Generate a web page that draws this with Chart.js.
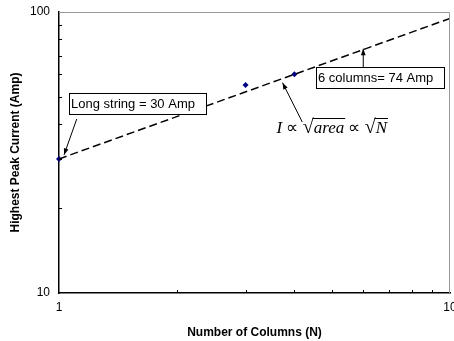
<!DOCTYPE html>
<html>
<head>
<meta charset="utf-8">
<script src="https://cdn.jsdelivr.net/npm/chart.js@4"></script>
<style>
  html, body { margin: 0; padding: 0; background: #fff; }
  #wrap { width: 454px; height: 341px; }
</style>
</head>
<body>
<div id="wrap"><canvas id="c"></canvas></div>
<script>
// measured points
const columns = [1, 3, 4];
const peakCurrent = [30, 55, 60];

// I ~ sqrt(N) fit, drawn as dashed line
const fitColumns = [1, 10];
const fitCurrent = [30, 94.9];

const xTickLabels = [1, 10];
const yTickLabels = [10, 100];
const xMinorTicks = [2, 3, 4, 5, 6, 7, 8, 9];
const yMinorTicks = [20, 30, 40, 50, 60, 70, 80, 90];

// annotation text, anchored in data units
const noteLong = { text: 'Long string = 30 Amp', x: 1.06, y: 51.5, tipX: 1.03, tipY: 31, fromX: 1.11, fromY: 41.6 };
const noteSix  = { text: '6 columns= 74 Amp', x: 4.55, y: 63.7, tipX: 6, tipY: 74 };
const noteLaw  = { x: 3.6, y: 37.1, fromX: 4.19, fromY: 40.6, tipX: 3.73, tipY: 56 };

function arrow(ctx, x1, y1, x2, y2) {
  const a = Math.atan2(y2 - y1, x2 - x1);
  ctx.beginPath();
  ctx.moveTo(x1, y1);
  ctx.lineTo(x2, y2);
  ctx.stroke();
  ctx.beginPath();
  ctx.moveTo(x2, y2);
  ctx.lineTo(x2 - 7 * Math.cos(a - 0.35), y2 - 7 * Math.sin(a - 0.35));
  ctx.lineTo(x2 - 7 * Math.cos(a + 0.35), y2 - 7 * Math.sin(a + 0.35));
  ctx.closePath();
  ctx.fill();
}

function boxText(ctx, text, x, y, w) {
  ctx.font = '13px Arial, "Liberation Sans", sans-serif';
  ctx.fillStyle = '#fff';
  ctx.fillRect(x, y, w, 21);
  ctx.strokeStyle = '#000';
  ctx.lineWidth = 1;
  ctx.strokeRect(x + 0.5, y + 0.5, w, 21);
  ctx.fillStyle = '#000';
  ctx.textBaseline = 'middle';
  ctx.textAlign = 'left';
  ctx.fillText(text, x + 2, y + 11);
}

// ── frame, minor ticks, notes ──
const extras = {
  id: 'extras',
  afterDatasetsDraw(chart) {
    const { ctx, chartArea: a, scales: { x, y } } = chart;
    ctx.save();
    // top / right border
    ctx.strokeStyle = '#999';
    ctx.lineWidth = 1;
    ctx.beginPath();
    ctx.moveTo(a.left, a.top + 0.5);
    ctx.lineTo(a.right - 0.5, a.top + 0.5);
    ctx.lineTo(a.right - 0.5, a.bottom);
    ctx.stroke();
    // inward minor ticks
    ctx.strokeStyle = '#000';
    ctx.beginPath();
    xMinorTicks.forEach(v => {
      const px = Math.round(x.getPixelForValue(v)) + 0.5;
      ctx.moveTo(px, a.bottom);
      ctx.lineTo(px, a.bottom - 3);
    });
    yMinorTicks.forEach(v => {
      const py = Math.round(y.getPixelForValue(v)) + 0.5;
      ctx.moveTo(a.left, py);
      ctx.lineTo(a.left + 3, py);
    });
    ctx.stroke();

    ctx.fillStyle = '#000';
    ctx.strokeStyle = '#000';
    ctx.lineWidth = 1;
    // long string note
    arrow(ctx, x.getPixelForValue(noteLong.fromX), y.getPixelForValue(noteLong.fromY),
               x.getPixelForValue(noteLong.tipX), y.getPixelForValue(noteLong.tipY));
    boxText(ctx, noteLong.text, Math.round(x.getPixelForValue(noteLong.x)), Math.round(y.getPixelForValue(noteLong.y)), 137);
    // 6 columns note
    const sx = x.getPixelForValue(noteSix.tipX);
    const sy = Math.round(y.getPixelForValue(noteSix.y));
    arrow(ctx, sx, sy, sx, y.getPixelForValue(noteSix.tipY));
    boxText(ctx, noteSix.text, Math.round(x.getPixelForValue(noteSix.x)), sy, 128);
    // scaling law
    arrow(ctx, x.getPixelForValue(noteLaw.fromX), y.getPixelForValue(noteLaw.fromY),
               x.getPixelForValue(noteLaw.tipX), y.getPixelForValue(noteLaw.tipY));
    let lx = x.getPixelForValue(noteLaw.x);
    const ly = y.getPixelForValue(noteLaw.y);
    ctx.textBaseline = 'alphabetic';
    ctx.textAlign = 'left';
    const it = 'italic 17px "Liberation Serif", "Times New Roman", serif';
    const up = '17px "Liberation Serif", "Times New Roman", serif';
    const rad = '20px "Liberation Serif", "Times New Roman", serif';
    const put = (t, f, bar) => {
      ctx.font = f;
      const w = ctx.measureText(t).width;
      ctx.fillText(t, lx, ly);
      if (bar) {
        ctx.fillRect(lx - 1, ly - 15, w + 2, 1);
      }
      lx += w;
    };
    put('I ', it);
    put('\u221D ', up);
    put('\u221A', rad);
    put('area', it, true);
    put(' \u221D ', up);
    put('\u221A', rad);
    put('N', it, true);
    ctx.restore();
  }
};

const tickFont = { family: 'Arial, "Liberation Sans", sans-serif', size: 12 };
const titleFont = { family: 'Arial, "Liberation Sans", sans-serif', size: 12, weight: 'bold' };

new Chart(document.getElementById('c'), {
  type: 'scatter',
  data: {
    datasets: [
      {
        type: 'line',
        data: fitColumns.map((n, i) => ({ x: n, y: fitCurrent[i] })),
        borderColor: '#000',
        borderWidth: 1.5,
        borderDash: [8, 4],
        pointRadius: 0,
        fill: false,
      },
      {
        data: columns.map((n, i) => ({ x: n, y: peakCurrent[i] })),
        pointStyle: 'rectRot',
        pointRadius: 3,
        backgroundColor: '#000080',
        borderColor: '#000080',
        borderWidth: 0,
        clip: false,
      },
    ],
  },
  options: {
    responsive: true,
    maintainAspectRatio: false,
    animation: false,
    layout: { padding: { top: 12, right: 3, left: 0, bottom: 0 } },
    plugins: { legend: { display: false }, tooltip: { enabled: false } },
    scales: {
      x: {
        type: 'logarithmic',
        min: 1,
        max: 10,
        afterBuildTicks: s => { s.ticks = xTickLabels.map(v => ({ value: v })); },
        afterFit: s => { s.height = 48; s.paddingLeft = 0; s.paddingRight = 0; },
        grid: { display: false, drawTicks: false },
        border: { color: '#000', width: 1.5 },
        ticks: { color: '#000', font: tickFont, padding: 7, maxRotation: 0, autoSkip: false, callback: v => String(v) },
        title: { display: true, text: 'Number of Columns (N)', color: '#000', font: titleFont, padding: { top: 0, bottom: 1 } },
      },
      y: {
        type: 'logarithmic',
        min: 10,
        max: 100,
        afterBuildTicks: s => { s.ticks = yTickLabels.map(v => ({ value: v })); },
        afterFit: s => { s.width = 59; s.paddingTop = 0; s.paddingBottom = 0; },
        grid: { display: false, drawTicks: false },
        border: { color: '#000', width: 1.5 },
        ticks: { color: '#000', font: tickFont, padding: 9, autoSkip: false, callback: v => String(v) },
        title: { display: true, text: 'Highest Peak Current (Amp)', color: '#000', font: titleFont, padding: { top: 8, bottom: 0 } },
      },
    },
  },
  plugins: [extras],
});
</script>
</body>
</html>
